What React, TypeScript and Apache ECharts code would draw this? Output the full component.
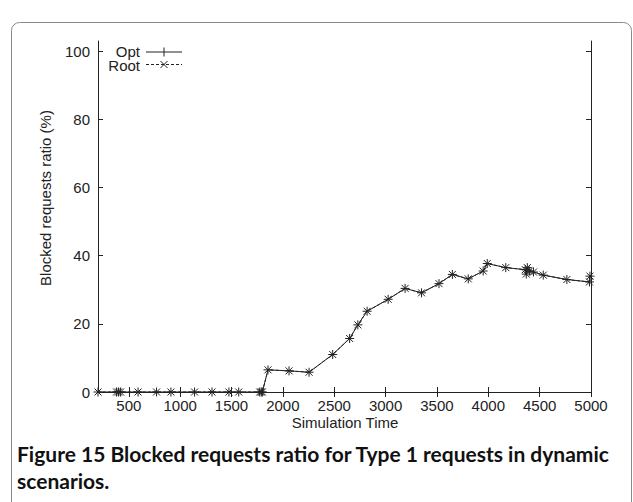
import React, { useEffect, useRef } from "react";
import * as echarts from "echarts";

const xValues = [200, 380, 400, 420, 590, 770, 910, 1140, 1310, 1475, 1570, 1775, 1790, 1800, 1855, 2060, 2255, 2485, 2650, 2730, 2820, 3025, 3190, 3350, 3520, 3650, 3805, 3950, 3990, 4170, 4360, 4370, 4380, 4400, 4440, 4535, 4765, 4985, 4990];
const optValues = [0, 0, 0, 0, 0, 0, 0, 0, 0, 0, 0, 0, 0, 0, 6.5, 6.2, 5.8, 11.0, 15.7, 19.7, 23.7, 27.2, 30.4, 29.1, 31.8, 34.5, 33.2, 35.5, 37.7, 36.5, 35.9, 34.6, 36.5, 35.5, 35.2, 34.3, 33.0, 32.3, 34.0];
const rootValues = [0, 0, 0, 0, 0, 0, 0, 0, 0, 0, 0, 0, 0, 0, 6.5, 6.2, 5.8, 11.0, 15.7, 19.7, 23.7, 27.2, 30.4, 29.1, 31.8, 34.5, 33.2, 35.5, 37.7, 36.5, 35.9, 34.6, 36.5, 35.5, 35.2, 34.3, 33.0, 32.3, 34.0];
const xTicks = [500, 1000, 1500, 2000, 2500, 3000, 3500, 4000, 4500, 5000];
const yTicks = [0, 20, 40, 60, 80, 100];
const seriesNames = ["Opt", "Root"];

const INK = "#222";
const FONT = "Liberation Sans";
const PLUS = "path://M5,0L5,10M0,5L10,5";
const CROSS = "path://M0,0L10,10M10,0L0,10";

export default function App() {
  const ref = useRef<HTMLDivElement>(null);
  useEffect(() => {
    if (!ref.current) return;
    const chart = echarts.init(ref.current, null, { renderer: "svg" });
    const axisBase = {
      type: "value" as const,
      axisLine: { show: true, lineStyle: { color: INK, width: 1 } },
      splitLine: { show: false },
    };
    const fmt = (v: number) => String(v);
    const opt = {
      animation: false,
      backgroundColor: "#fff",
      grid: { left: 98, right: 42, top: 41, bottom: 110 },
      xAxis: [
        {
          ...axisBase, min: 200, max: 5000, position: "bottom",
          axisTick: { show: true, inside: true, length: 5, customValues: xTicks, lineStyle: { color: INK } },
          axisLabel: { customValues: xTicks, formatter: fmt, color: INK, fontSize: 15, fontFamily: FONT, margin: 6 },
        },
        {
          ...axisBase, min: 200, max: 5000, position: "top",
          axisTick: { show: true, inside: true, length: 5, customValues: xTicks, lineStyle: { color: INK } },
          axisLabel: { show: false },
        },
      ],
      yAxis: [
        {
          ...axisBase, min: 0, max: 103, position: "left",
          axisTick: { show: true, inside: true, length: 5, customValues: yTicks, lineStyle: { color: INK } },
          axisLabel: { customValues: yTicks, formatter: fmt, color: INK, fontSize: 15, fontFamily: FONT, margin: 8 },
        },
        {
          ...axisBase, min: 0, max: 103, position: "right",
          axisTick: { show: true, inside: true, length: 5, customValues: yTicks, lineStyle: { color: INK } },
          axisLabel: { show: false },
        },
      ],
      series: [
        {
          name: seriesNames[1], type: "line", xAxisIndex: 0, yAxisIndex: 0, clip: false,
          data: xValues.map((x, i) => [x, rootValues[i]]),
          symbol: CROSS, symbolSize: 7,
          lineStyle: { color: INK, width: 1, type: [3, 2] },
          itemStyle: { color: "rgba(0,0,0,0)", borderColor: INK, borderWidth: 1 },
          z: 2,
        },
        {
          name: seriesNames[0], type: "line", xAxisIndex: 0, yAxisIndex: 0, clip: false,
          data: xValues.map((x, i) => [x, optValues[i]]),
          symbol: PLUS, symbolSize: 9,
          lineStyle: { color: INK, width: 1 },
          itemStyle: { color: "rgba(0,0,0,0)", borderColor: INK, borderWidth: 1 },
          z: 3,
        },
      ],
      graphic: [
        { type: "rect", shape: { x: 11.5, y: 22.5, width: 620, height: 560, r: 8 }, style: { fill: "none", stroke: "#8a8a8a", lineWidth: 1 }, z: 0 },
        { type: "text", x: 140, y: 51, style: { text: seriesNames[0], align: "right", verticalAlign: "middle", font: `15px "${FONT}"`, fill: INK } },
        { type: "line", shape: { x1: 146, y1: 52, x2: 182, y2: 52 }, style: { stroke: INK, lineWidth: 1 } },
        { type: "line", shape: { x1: 164, y1: 47.5, x2: 164, y2: 56.5 }, style: { stroke: INK, lineWidth: 1 } },
        { type: "text", x: 140, y: 65, style: { text: seriesNames[1], align: "right", verticalAlign: "middle", font: `15px "${FONT}"`, fill: INK } },
        { type: "line", shape: { x1: 146, y1: 64.5, x2: 182, y2: 64.5 }, style: { stroke: INK, lineWidth: 1, lineDash: [3, 2] } },
        { type: "line", shape: { x1: 160.5, y1: 61, x2: 167.5, y2: 68 }, style: { stroke: INK, lineWidth: 1 } },
        { type: "line", shape: { x1: 167.5, y1: 61, x2: 160.5, y2: 68 }, style: { stroke: INK, lineWidth: 1 } },
        { type: "text", x: 45, y: 198, rotation: Math.PI / 2, style: { text: "Blocked requests ratio (%)", align: "center", verticalAlign: "middle", font: `15px "${FONT}"`, fill: INK } },
        { type: "text", x: 345, y: 422, style: { text: "Simulation Time", align: "center", verticalAlign: "middle", font: `15px "${FONT}"`, fill: INK } },
        { type: "text", x: 17, y: 453, style: { text: "Figure 15 Blocked requests ratio for Type 1 requests in dynamic", align: "left", verticalAlign: "middle", font: `bold 21px Lato`, fill: "#111" } },
        { type: "text", x: 17, y: 480, style: { text: "scenarios.", align: "left", verticalAlign: "middle", font: `bold 21px Lato`, fill: "#111" } },
      ],
    };
    chart.setOption(opt as any);
    return () => chart.dispose();
  }, []);
  return <div ref={ref} style={{ position: "fixed", left: 0, top: 0, width: 633, height: 502 }} />;
}
